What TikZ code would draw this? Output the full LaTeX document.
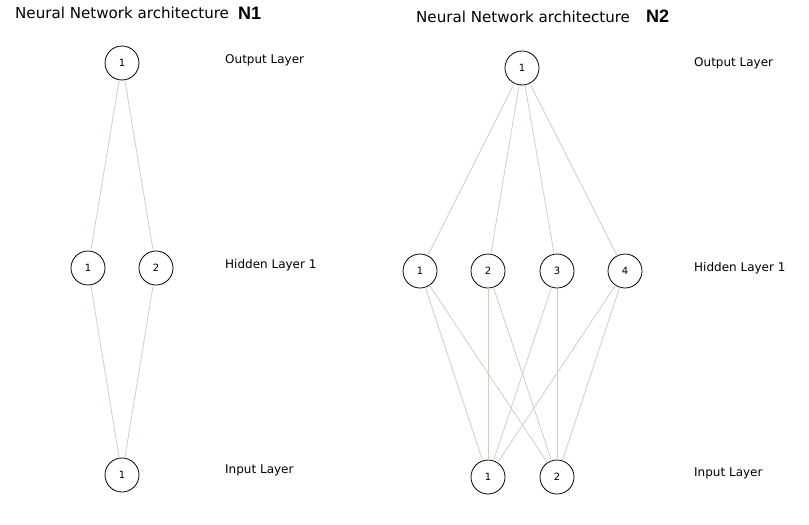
\documentclass[tikz,border=0pt]{standalone}
\usepackage{fontspec}
\setmainfont{DejaVu Sans}
\newfontfamily\boldf{Liberation Sans}
\begin{document}
\begin{tikzpicture}[x=1pt,y=-1pt,
  neuron/.style={draw=black,line width=0.8pt,circle,minimum size=34pt,inner sep=0pt,font=\fontsize{10}{11}\selectfont},
  conn/.style={draw={rgb,255:red,212;green,204;blue,190},line width=0.8pt},
  layerlbl/.style={anchor=west,inner sep=0pt,font=\fontsize{12}{14}\selectfont},
  titlelbl/.style={anchor=west,inner sep=0pt,font=\fontsize{15.1}{17}\selectfont},
  nlbl/.style={anchor=west,inner sep=0pt,font=\boldf\bfseries\fontsize{18}{20}\selectfont}]
\useasboundingbox (0,0) rectangle (809,525);
% N1
\node[titlelbl] (t1) at (15,13) {Neural Network architecture};
\node[nlbl] (t1b) at (238,13) {N1};
\node[neuron] (a0) at (122,63) {1};
\node[neuron] (a1) at (88,268) {1};
\node[neuron] (a2) at (156,268) {2};
\node[neuron] (ai) at (122,475) {1};
\node[layerlbl] (la1) at (225,60) {Output Layer};
\node[layerlbl] (la2) at (225,265) {Hidden Layer 1};
\node[layerlbl] (la3) at (225,470) {Input Layer};
\draw[conn] (a0) -- (a1);
\draw[conn] (a0) -- (a2);
\draw[conn] (a1) -- (ai);
\draw[conn] (a2) -- (ai);
% N2
\node[titlelbl] (t2) at (416,17) {Neural Network architecture};
\node[nlbl] (t2b) at (646,16) {N2};
\node[neuron] (b0) at (522,68) {1};
\node[neuron] (b1) at (420,271) {1};
\node[neuron] (b2) at (488,271) {2};
\node[neuron] (b3) at (557,271) {3};
\node[neuron] (b4) at (625,271) {4};
\node[neuron] (bi1) at (488,477) {1};
\node[neuron] (bi2) at (557,477) {2};
\node[layerlbl] (lb1) at (694,63) {Output Layer};
\node[layerlbl] (lb2) at (694,268) {Hidden Layer 1};
\node[layerlbl] (lb3) at (694,473) {Input Layer};
\foreach \h in {b1,b2,b3,b4}{
  \draw[conn] (b0) -- (\h);
  \draw[conn] (\h) -- (bi1);
  \draw[conn] (\h) -- (bi2);
}
\end{tikzpicture}
\end{document}
